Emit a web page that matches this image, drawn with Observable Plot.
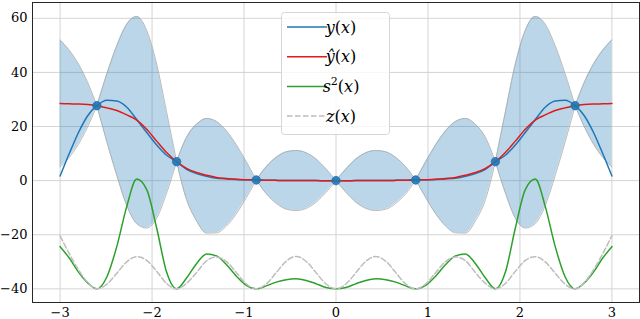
<!DOCTYPE html>
<html><head><meta charset="utf-8">
<script src="https://cdn.jsdelivr.net/npm/d3@7"></script>
<script src="https://cdn.jsdelivr.net/npm/@observablehq/plot@0.6"></script>
<style>
body{margin:0;background:#fff}
#chart{width:640px;height:319px}
</style>
</head><body><div id="chart"></div>
<script>
const xs = [-3.0,-2.9,-2.8,-2.7,-2.6,-2.492,-2.383,-2.275,-2.167,-2.058,-1.95,-1.842,-1.733,-1.625,-1.517,-1.408,-1.3,-1.192,-1.083,-0.975,-0.867,-0.758,-0.65,-0.542,-0.433,-0.325,-0.217,-0.108,0,
  0.108,0.217,0.325,0.433,0.542,0.65,0.758,0.867,0.975,1.083,1.192,1.3,1.408,1.517,1.625,1.733,1.842,1.95,2.058,2.167,2.275,2.383,2.492,2.6,2.7,2.8,2.9,3.0];
const yTrue = [1.7,10.0,17.8,24.0,27.7,29.7,29.4,27.1,22.6,17.8,13.2,9.4,7.0,4.2,2.6,1.6,0.9,0.6,0.4,0.3,0.25,0.15,0.1,0.05,0.03,0.02,0.01,0,0,
  0,0.01,0.02,0.03,0.05,0.1,0.15,0.25,0.3,0.4,0.6,0.9,1.6,2.6,4.2,7.0,9.4,13.2,17.8,22.6,27.1,29.4,29.7,27.7,24.0,17.8,10.0,1.7];
const yHat = [28.5,28.4,28.3,28.1,27.7,26.9,25.9,24.3,22.4,19.0,14.6,10.4,7.0,4.5,3.0,2.0,1.2,0.8,0.5,0.35,0.25,0.15,0.1,0.05,0.03,0.02,0.01,0,0,
  0,0.01,0.02,0.03,0.05,0.1,0.15,0.25,0.35,0.5,0.8,1.2,2.0,3.0,4.5,7.0,10.4,14.6,19.0,22.4,24.3,25.9,26.9,27.7,28.1,28.3,28.4,28.5];
const bandHigh = [52.0,48.2,43.1,36.3,27.7,39.4,49.9,57.8,60.7,55.5,43.1,25.4,7.0,16.0,20.8,23.0,21.9,18.4,13.2,6.95,0.25,5.15,8.6,10.65,11.13,10.32,8.01,4.3,0,
  4.3,8.01,10.32,11.13,10.65,8.6,5.15,0.25,6.95,13.2,18.4,21.9,23.0,20.8,16.0,7.0,25.4,43.1,55.5,60.7,57.8,49.9,39.4,27.7,36.3,43.1,48.2,52.0];
const bandLow = [5.0,8.6,13.5,19.9,27.7,14.4,1.9,-9.2,-15.9,-17.5,-13.9,-4.6,7.0,-7.0,-14.8,-19.4,-19.3,-16.8,-12.2,-6.25,0.25,-4.85,-8.4,-10.55,-11.07,-10.28,-7.99,-4.3,0,
  -4.3,-7.99,-10.28,-11.07,-10.55,-8.4,-4.85,0.25,-6.25,-12.2,-16.8,-19.3,-19.4,-14.8,-7.0,7.0,-4.6,-13.9,-17.5,-15.9,-9.2,1.9,14.4,27.7,19.9,13.5,8.6,5.0];
const s2Line = [-24.4,-28.6,-33.8,-37.8,-40,-35.6,-24.3,-9.5,0.6,-3.3,-17.5,-33.8,-40,-36.0,-30.7,-27.1,-27.8,-31.0,-35.3,-38.7,-40,-38.9,-37.5,-36.6,-36.3,-36.9,-38.1,-39.5,-40,
  -39.5,-38.1,-36.9,-36.3,-36.6,-37.5,-38.9,-40,-38.7,-35.3,-31.0,-27.8,-27.1,-30.7,-36.0,-40,-33.8,-17.5,-3.3,0.6,-9.5,-24.3,-35.6,-40,-37.8,-33.8,-28.6,-24.4];
const zLine = [-20.4,-27.0,-33.0,-37.6,-40,-38.3,-34.2,-30.0,-28.1,-29.5,-33.5,-38.0,-40,-38.0,-34.0,-29.6,-28.2,-29.9,-34.0,-38.2,-40,-38.2,-34.0,-29.8,-28.0,-29.8,-34.0,-38.2,-40,
  -38.2,-34.0,-29.8,-28.0,-29.8,-34.0,-38.2,-40,-38.2,-34.0,-29.9,-28.2,-29.6,-34.0,-38.0,-40,-38.0,-33.5,-29.5,-28.1,-30.0,-34.2,-38.3,-40,-37.6,-33.0,-27.0,-20.4];
const knotX = [-2.6,-1.733,-0.867,0,0.867,1.733,2.6];
const knotY = [27.7,7.0,0.25,0,0.25,7.0,27.7];
const xTicks = [-3,-2,-1,0,1,2,3];
const yTicks = [-40,-20,0,20,40,60];

const rows = xs.map((x,i)=>({x, y:yTrue[i], yh:yHat[i], lo:bandLow[i], hi:bandHigh[i], s2:s2Line[i], z:zLine[i]}));
const breaks = [0, ...knotX.map(k => xs.findIndex(x => Math.abs(x-k) < 1e-9)), xs.length-1];
const band = [];
for (let s = 0; s < breaks.length-1; s++) for (let i = breaks[s]; i <= breaks[s+1]; i++) band.push({...rows[i], seg: s});
const knots = knotX.map((x,i)=>({x, y:knotY[i]}));

const font = "DejaVu Serif";
const curve = "monotone-x";
const fmt = d3.format("d");
const chart = Plot.plot({
  width: 640, height: 319,
  marginLeft: 32, marginRight: 1, marginTop: 2, marginBottom: 17,
  x: {domain: [-3.3, 3.3], label: null},
  y: {domain: [-45.04, 65.84], label: null},
  style: {fontFamily: font, fontSize: "13px", background: "#fff", color: "#000"},
  marks: [
    Plot.gridX(xTicks, {stroke: "#d4d4d4", strokeOpacity: 1, strokeWidth: 1}),
    Plot.gridY(yTicks, {stroke: "#d4d4d4", strokeOpacity: 1, strokeWidth: 1}),
    Plot.areaY(band, {x: "x", y1: "lo", y2: "hi", z: "seg", fill: "#1f77b4", fillOpacity: 0.3, curve}),
    Plot.lineY(band, {x: "x", y: "hi", z: "seg", stroke: "#a8a8a8", strokeWidth: 0.8, curve}),
    Plot.lineY(band, {x: "x", y: "lo", z: "seg", stroke: "#a8a8a8", strokeWidth: 0.8, curve}),
    Plot.lineY(rows, {x: "x", y: "y", stroke: "#1f77b4", strokeWidth: 1.5, curve}),
    Plot.lineY(rows, {x: "x", y: "yh", stroke: "#e31a1c", strokeWidth: 1.5, curve}),
    Plot.lineY(rows, {x: "x", y: "s2", stroke: "#2ca02c", strokeWidth: 1.5, curve}),
    Plot.lineY(rows, {x: "x", y: "z", stroke: "#bdbdbd", strokeWidth: 1.5, strokeDasharray: "5.5,2.5", curve}),
    Plot.dot(knots, {x: "x", y: "y", r: 4.2, fill: "#1f77b4", fillOpacity: 0.9, stroke: "#1f6fa8", strokeWidth: 0.8}),
    Plot.frame({stroke: "#262626", strokeWidth: 1}),
    Plot.axisX({ticks: xTicks, tickSize: 0, tickPadding: 5, fontSize: 13, tickFormat: fmt, label: null}),
    Plot.axisY({ticks: yTicks, tickSize: 0, tickPadding: 5, fontSize: 13, tickFormat: fmt, label: null})
  ]
});
document.getElementById("chart").appendChild(chart);
d3.select(chart).selectAll("text").style("font-family", "'DejaVu Serif', 'Liberation Serif', serif");

// legend
const svg = d3.select(chart);
const g = svg.append("g");
g.append("rect").attr("x", 281.5).attr("y", 12.5).attr("width", 108).attr("height", 122).attr("rx", 3)
  .attr("fill", "#fff").attr("fill-opacity", 0.8).attr("stroke", "#d6d6d6");
const legendItems = [
  {color: "#1f77b4", dash: null, v: "y", sup: null},
  {color: "#e31a1c", dash: null, v: "\u0177", sup: null},
  {color: "#2ca02c", dash: null, v: "s", sup: "2"},
  {color: "#bdbdbd", dash: "5.5,2.5", v: "z", sup: null}
];
legendItems.forEach((d, i) => {
  const yy = 27 + i * 29.7;
  g.append("line").attr("x1", 287).attr("x2", 327).attr("y1", yy).attr("y2", yy)
    .attr("stroke", d.color).attr("stroke-width", 1.5).attr("stroke-dasharray", d.dash);
  const t = g.append("text").attr("x", 341).attr("y", yy + 5.5)
    .style("font-family", "'DejaVu Serif', 'Liberation Serif', serif").style("font-size", "16px");
  t.append("tspan").style("font-style", "italic").text(d.v);
  if (d.sup) {
    t.append("tspan").style("font-size", "11px").attr("dy", -7).text(d.sup);
    t.append("tspan").attr("dy", 7).text("(");
  } else {
    t.append("tspan").text("(");
  }
  t.append("tspan").style("font-style", "italic").text("x");
  t.append("tspan").text(")");
});
</script></body></html>
